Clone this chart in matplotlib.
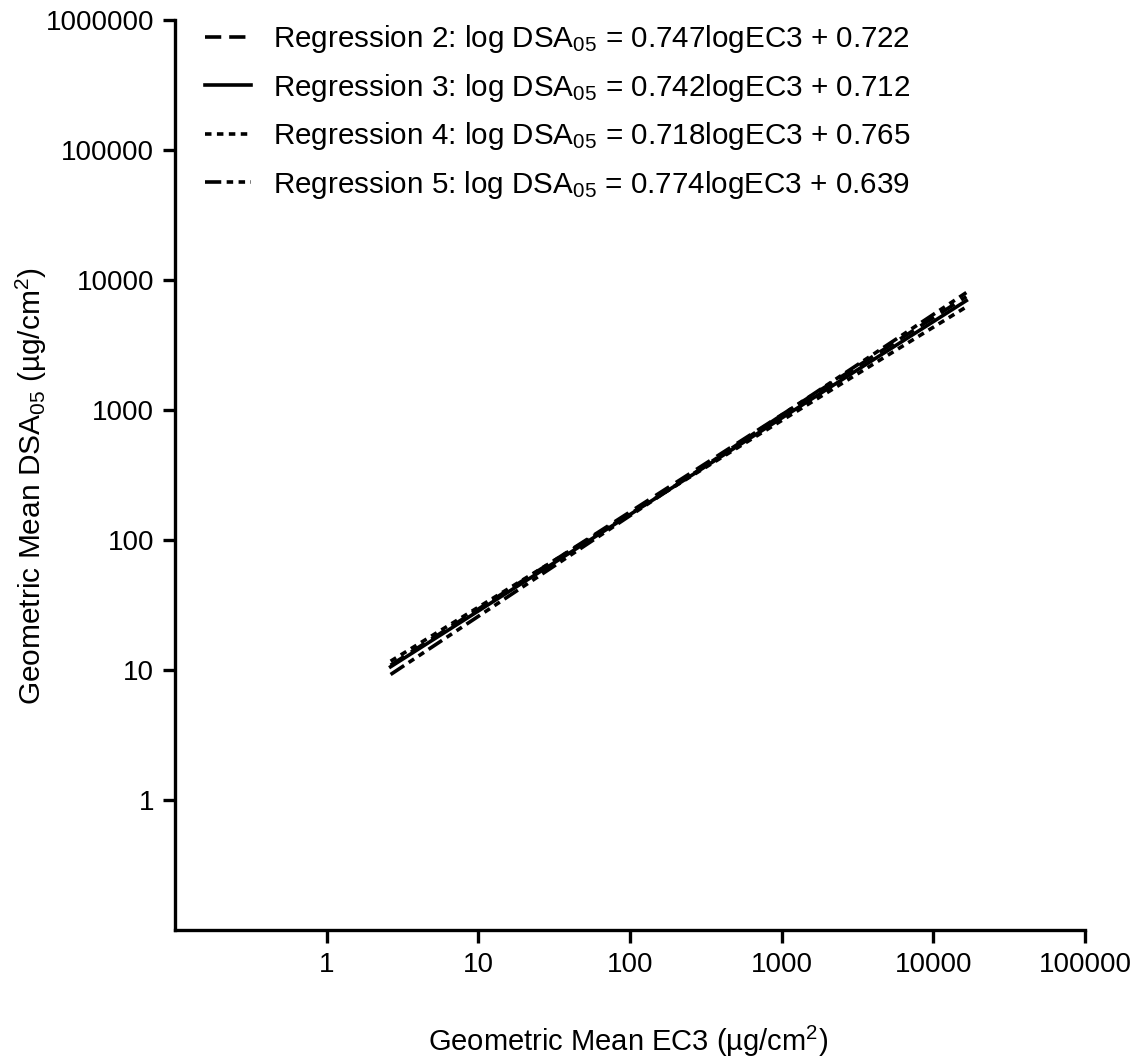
import numpy as np
import matplotlib
matplotlib.use("Agg")
import matplotlib.pyplot as plt

plt.rcParams['font.family'] = ['Liberation Sans', 'DejaVu Sans']
plt.rcParams['mathtext.fontset'] = 'custom'
plt.rcParams['mathtext.rm'] = 'Liberation Sans'
plt.rcParams['mathtext.it'] = 'Liberation Sans'
plt.rcParams['mathtext.bf'] = 'Liberation Sans:bold'
plt.rcParams['mathtext.default'] = 'regular'

# Data: regression lines log DSA05 = slope*log EC3 + intercept
regressions = ["Regression 2", "Regression 3", "Regression 4", "Regression 5"]
slopes = [0.747, 0.742, 0.718, 0.774]
intercepts = [0.722, 0.712, 0.765, 0.639]
ec3_start = [2.64, 2.64, 2.64, 2.64]
ec3_end = [16500, 16500, 16500, 16500]

x_ticks = [1, 10, 100, 1000, 10000, 100000]
x_tick_labels = ["1", "10", "100", "1000", "10000", "100000"]
y_ticks = [1, 10, 100, 1000, 10000, 100000, 1000000]
y_tick_labels = ["1", "10", "100", "1000", "10000", "100000", "1000000"]

styles = [(0, (4.5, 2.2)), '-', (0, (1.8, 1.5)), (0, (4.5, 1.5, 1.8, 1.5, 1.8, 1.5))]

fig = plt.figure(figsize=(11.38, 10.61), dpi=100)
ax = fig.add_axes([175/1138, 1 - 930/1061, (1085-175)/1138, (930-20)/1061])

for name, s, b, x0, x1, ls in zip(regressions, slopes, intercepts, ec3_start, ec3_end, styles):
    x = np.array([x0, x1])
    y = 10 ** (s * np.log10(x) + b)
    lab = f"{name}: log DSA$_{{05}}$ = {s:.3f}logEC3 + {b:.3f}"
    ax.plot(x, y, color='black', linestyle=ls, linewidth=2.6, label=lab)

ax.set_xscale('log')
ax.set_yscale('log')
ax.set_xlim(0.1, 100000)
ax.set_ylim(0.1, 1000000)
ax.set_xticks(x_ticks)
ax.set_xticklabels(x_tick_labels)
ax.set_yticks(y_ticks)
ax.set_yticklabels(y_tick_labels)
ax.minorticks_off()
ax.tick_params(axis='both', which='major', length=9, width=2.4, direction='out',
               labelsize=20, pad=6, colors='black')
ax.tick_params(axis='x', pad=7)
for sp in ['top', 'right']:
    ax.spines[sp].set_visible(False)
for sp in ['left', 'bottom']:
    ax.spines[sp].set_linewidth(2.4)

fig.text(628/1138, 1 - 1041/1061, "Geometric Mean EC3 (µg/cm$^2$)", ha='center', va='center', fontsize=21)
fig.text(31/1138, 1 - 486/1061, "Geometric Mean DSA$_{05}$ (µg/cm$^2$)", ha='center', va='center',
         fontsize=21.5, rotation=90)

leg = ax.legend(loc='upper left', bbox_to_anchor=(205/1138, 1 - 23/1061), bbox_transform=fig.transFigure,
                frameon=False, fontsize=21.3, handlelength=1.55, handletextpad=0.75,
                labelspacing=0.56, borderpad=0, borderaxespad=0)

fig.savefig("out.png", dpi=100)
